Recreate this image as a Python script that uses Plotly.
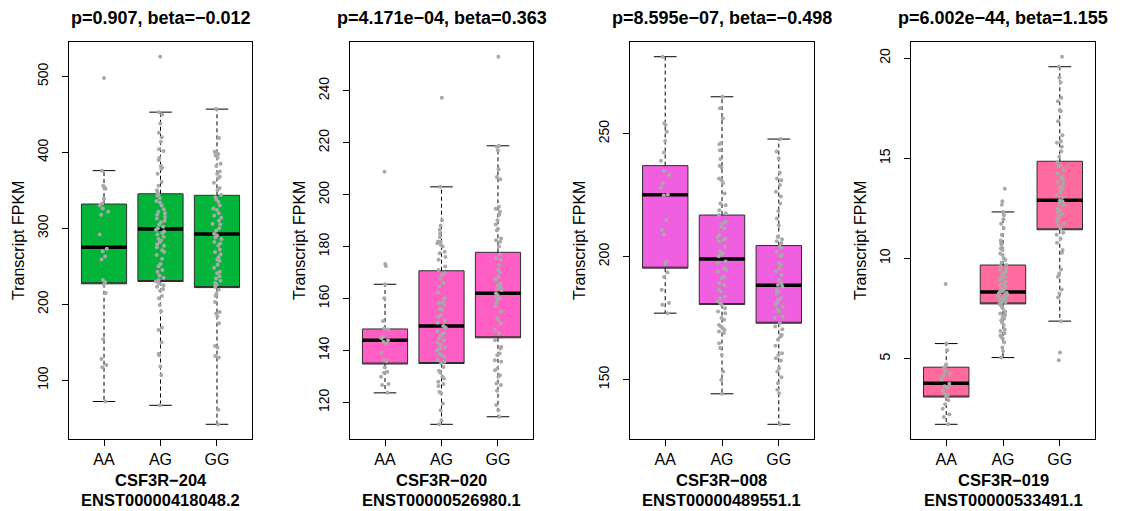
import plotly.graph_objects as go

# ---------------- data ----------------
groups = ["AA", "AG", "GG"]
panel_titles = ["p=0.907, beta=\u22120.012", "p=4.171e\u221204, beta=0.363",
                "p=8.595e\u221207, beta=\u22120.498", "p=6.002e\u221244, beta=1.155"]
gene_names = ["CSF3R\u2212204", "CSF3R\u2212020", "CSF3R\u2212008", "CSF3R\u2212019"]
transcript_ids = ["ENST00000418048.2", "ENST00000526980.1", "ENST00000489551.1", "ENST00000533491.1"]
y_axis_title = "Transcript FPKM"
y_tick_values = [[100, 200, 300, 400, 500], [120, 140, 160, 180, 200, 220, 240],
                 [150, 200, 250], [5, 10, 15, 20]]

# panel 1 (CSF3R-204)
p1_q1 = [227, 230, 222]
p1_median = [275, 299, 292.5]
p1_q3 = [332, 345.5, 343.5]
p1_lower = [72, 67, 42]
p1_upper = [376, 453, 457]
p1_AA = [498, 376, 356, 354, 352, 339, 333, 330, 326, 322, 318, 292, 273, 270, 263, 259, 232, 229, 226, 215,
         154, 128, 120, 117, 72]
p1_AG = [526, 453, 450, 438, 426, 420, 414, 404, 402, 393, 390, 382, 380, 378, 372, 361, 356, 350, 347, 345,
         343, 340, 336, 334, 330, 325, 322, 320, 318, 315, 313, 310, 308, 305, 302, 300, 298, 296, 294, 292,
         289, 286, 284, 282, 279, 277, 275, 271, 269, 265, 260, 253, 250, 245, 243, 238, 235, 232, 230, 228,
         227, 225, 223, 220, 218, 211, 208, 199, 191, 169, 166, 150, 135, 133, 118, 107, 67]
p1_GG = [457, 419, 401, 400, 398, 396, 393, 385, 382, 375, 372, 368, 366, 360, 353, 350, 344, 341, 338, 335,
         330, 326, 324, 320, 317, 314, 310, 306, 305, 300, 297, 293, 291, 288, 286, 282, 280, 277, 272, 269,
         266, 262, 259, 257, 252, 248, 243, 241, 237, 234, 231, 228, 226, 223, 219, 214, 211, 203, 190, 188,
         184, 175, 145, 143, 132, 130, 61, 42]

# panel 2 (CSF3R-020)
p2_q1 = [134.8, 135.0, 144.9]
p2_median = [144.0, 149.4, 162.0]
p2_q3 = [148.3, 170.7, 177.8]
p2_lower = [123.7, 111.6, 114.5]
p2_upper = [165.5, 203.0, 218.8]
p2_AA = [208.8, 173.3, 172.5, 165.5, 160.1, 151.4, 148.5, 148.1, 145.3, 144.7, 144.0, 143.4, 142.7, 139.1,
         136.3, 136.0, 133.5, 131.8, 131.4, 129.9, 127.1, 126.7, 123.7]
p2_AG = [237.3, 203.0, 190.1, 188.0, 186.5, 185.0, 183.7, 182.0, 181.9, 181.3, 180.6, 180.0, 178.0, 177.4,
         176.0, 174.9, 172.3, 171.0, 169.7, 169.1, 167.5, 166.0, 164.6, 162.3, 160.1, 158.8, 158.2, 157.5,
         156.2, 155.6, 153.7, 153.0, 151.5, 150.7, 149.4, 148.9, 147.5, 146.6, 146.0, 144.7, 144.0, 143.0,
         142.1, 141.2, 140.8, 140.0, 138.9, 138.2, 137.6, 136.3, 135.7, 135.0, 133.7, 132.2, 131.4, 129.9,
         129.2, 128.0, 127.1, 126.3, 124.1, 123.5, 119.6, 117.0, 113.2, 111.6]
p2_GG = [253.1, 218.8, 218.4, 217.1, 209.8, 206.8, 205.9, 195.3, 194.6, 193.4, 192.3, 190.1, 188.5, 186.9,
         186.3, 183.1, 182.4, 181.9, 180.0, 177.0, 175.5, 174.8, 173.0, 171.0, 170.0, 168.4, 167.4, 165.9,
         165.2, 164.5, 163.9, 163.3, 162.0, 161.4, 160.8, 160.1, 159.4, 158.4, 157.0, 154.9, 152.4, 151.7,
         150.5, 148.0, 146.6, 144.0, 141.4, 140.8, 138.9, 138.2, 136.3, 135.7, 133.1, 132.4, 130.5, 129.9,
         127.3, 126.7, 124.5, 119.0, 117.0, 114.5]

# panel 3 (CSF3R-008)
p3_q1 = [195.3, 180.5, 172.9]
p3_median = [225.2, 199.0, 188.4]
p3_q3 = [237.0, 216.9, 204.5]
p3_lower = [177.0, 144.2, 131.8]
p3_upper = [281.3, 265.0, 247.8]
p3_AA = [281.3, 254.2, 253.5, 250.8, 247.0, 242.3, 239.0, 234.8, 233.2, 229.8, 228.0, 225.3, 225.0, 214.9,
         210.8, 209.0, 198.0, 197.1, 193.5, 191.7, 186.5, 181.1, 180.4, 177.0]
p3_AG = [265.0, 260.3, 256.3, 246.1, 245.7, 243.3, 239.7, 237.0, 236.2, 231.8, 231.1, 229.8, 225.7, 221.6,
         220.9, 218.9, 217.6, 216.9, 214.2, 213.5, 212.1, 211.5, 208.8, 208.1, 207.4, 206.9, 206.2, 204.0,
         202.1, 201.4, 200.7, 200.1, 198.0, 197.4, 195.3, 194.6, 194.0, 191.9, 191.2, 189.2, 188.5, 186.5,
         185.8, 183.8, 183.1, 181.8, 181.1, 180.4, 179.0, 177.7, 177.0, 175.0, 174.3, 172.2, 171.6, 170.9,
         170.2, 169.5, 168.9, 164.8, 162.8, 160.0, 153.3, 149.9, 144.2]
p3_GG = [247.8, 242.7, 240.0, 234.1, 231.8, 231.1, 229.1, 226.4, 224.4, 221.6, 218.5, 215.5, 212.8, 208.1,
         207.1, 206.2, 205.5, 204.1, 203.5, 202.0, 200.7, 200.1, 197.4, 196.7, 195.3, 194.0, 192.6, 190.5,
         189.2, 188.5, 187.9, 186.5, 185.8, 185.1, 183.1, 182.4, 181.1, 180.4, 179.7, 178.4, 177.7, 175.6,
         175.0, 172.9, 171.6, 170.5, 168.2, 167.5, 166.2, 163.7, 160.7, 160.0, 158.7, 157.7, 154.6, 153.3,
         150.9, 148.5, 145.8, 144.4, 131.8]

# panel 4 (CSF3R-019)
p4_q1 = [3.08, 7.73, 11.43]
p4_median = [3.77, 8.33, 12.9]
p4_q3 = [4.57, 9.67, 14.85]
p4_lower = [1.72, 5.05, 6.87]
p4_upper = [5.75, 12.32, 19.57]
p4_AA = [8.72, 5.75, 5.42, 4.72, 4.62, 4.50, 4.38, 4.25, 4.17, 3.95, 3.75, 3.62, 3.55, 3.40, 3.25, 3.17,
         3.08, 2.92, 2.72, 2.50, 2.22, 2.08, 1.72]
p4_AG = [13.48, 12.85, 12.68, 12.32, 12.15, 11.95, 11.73, 11.52, 11.18, 10.90, 10.75, 10.67, 10.50, 10.42,
         10.25, 10.17, 10.00, 9.92, 9.80, 9.67, 9.58, 9.50, 9.42, 9.33, 9.25, 9.17, 9.08, 9.00, 8.92, 8.85,
         8.75, 8.67, 8.58, 8.50, 8.42, 8.38, 8.33, 8.29, 8.25, 8.21, 8.17, 8.12, 8.08, 8.04, 8.00, 7.96, 7.92,
         7.88, 7.83, 7.78, 7.72, 7.60, 7.50, 7.35, 7.25, 7.17, 7.08, 7.00, 6.92, 6.80, 6.67, 6.45, 6.38, 6.28,
         6.15, 6.08, 6.00, 5.80, 5.55, 5.38, 5.05]
p4_GG = [20.07, 19.57, 19.02, 18.78, 18.02, 17.85, 17.40, 17.35, 16.85, 16.15, 15.85, 15.78, 15.57, 15.35,
         15.07, 14.80, 14.65, 14.62, 14.40, 14.23, 14.10, 14.02, 13.95, 13.82, 13.73, 13.60, 13.52, 13.45,
         13.30, 13.15, 13.07, 12.90, 12.85, 12.75, 12.65, 12.50, 12.40, 12.32, 12.23, 12.10, 11.98, 11.85,
         11.73, 11.65, 11.48, 11.28, 11.18, 10.98, 10.78, 10.42, 10.28, 9.45, 9.25, 9.08, 8.45, 8.25, 8.05,
         6.87, 5.30, 4.92]

# ---------------- styling ----------------
box_colors = ["#03B43A", "#FF5EC4", "#EF5FDF", "#FF6B9F"]
point_color = "#A9A9A9"
FONT = "Liberation Sans, Arial, Helvetica, sans-serif"
W, H = 1123, 511
x_domains = [(69, 252), (350, 533), (630, 814), (911, 1095)]  # pixels
y_top, y_bot = 42, 439
BOX_W = 0.8
CAP_W = 0.4

panels = [
    dict(q1=p1_q1, med=p1_median, q3=p1_q3, lo=p1_lower, hi=p1_upper, pts=[p1_AA, p1_AG, p1_GG]),
    dict(q1=p2_q1, med=p2_median, q3=p2_q3, lo=p2_lower, hi=p2_upper, pts=[p2_AA, p2_AG, p2_GG]),
    dict(q1=p3_q1, med=p3_median, q3=p3_q3, lo=p3_lower, hi=p3_upper, pts=[p3_AA, p3_AG, p3_GG]),
    dict(q1=p4_q1, med=p4_median, q3=p4_q3, lo=p4_lower, hi=p4_upper, pts=[p4_AA, p4_AG, p4_GG]),
]

fig = go.Figure()
layout = dict(
    width=W, height=H, margin=dict(l=0, r=0, t=0, b=0),
    paper_bgcolor="white", plot_bgcolor="white", showlegend=False,
    font=dict(family=FONT, color="black"), boxmode="overlay",
)
annotations = []
pos = [1, 2, 3]

for i, p in enumerate(panels):
    n = i + 1
    xa = "x" if n == 1 else f"x{n}"
    ya = "y" if n == 1 else f"y{n}"
    ya_pts = f"y{n + 4}"
    all_vals = [v for g in p["pts"] for v in g] + p["lo"] + p["hi"]
    vmin, vmax = min(all_vals), max(all_vals)
    span = vmax - vmin
    yrange = [vmin - 0.04 * span, vmax + 0.04 * span]

    # box bodies
    fig.add_trace(go.Box(
        x=pos, q1=p["q1"], median=p["q1"], q3=p["q3"], lowerfence=p["q1"], upperfence=p["q3"],
        width=BOX_W, fillcolor=box_colors[i], line=dict(color="#2e2e2e", width=1),
        whiskerwidth=0, boxpoints=False, hoverinfo="skip", xaxis=xa, yaxis=ya))

    # whiskers (dashed)
    wx, wy = [], []
    for k in range(3):
        wx += [pos[k], pos[k], None, pos[k], pos[k], None]
        wy += [p["q3"][k], p["hi"][k], None, p["q1"][k], p["lo"][k], None]
    fig.add_trace(go.Scatter(x=wx, y=wy, mode="lines", line=dict(color="black", width=1, dash="4px,3px"),
                             hoverinfo="skip", xaxis=xa, yaxis=ya))
    # staples
    cx, cy = [], []
    for k in range(3):
        cx += [pos[k] - CAP_W / 2, pos[k] + CAP_W / 2, None, pos[k] - CAP_W / 2, pos[k] + CAP_W / 2, None]
        cy += [p["hi"][k], p["hi"][k], None, p["lo"][k], p["lo"][k], None]
    fig.add_trace(go.Scatter(x=cx, y=cy, mode="lines", line=dict(color="black", width=1),
                             hoverinfo="skip", xaxis=xa, yaxis=ya))
    # medians
    mx, my = [], []
    for k in range(3):
        mx += [pos[k] - BOX_W / 2, pos[k] + BOX_W / 2, None]
        my += [p["med"][k], p["med"][k], None]
    fig.add_trace(go.Scatter(x=mx, y=my, mode="lines", line=dict(color="black", width=3.5),
                             hoverinfo="skip", xaxis=xa, yaxis=ya))

    # jittered points on an overlaid axis (drawn on top)
    px_, py_ = [], []
    for k in range(3):
        px_ += [pos[k]] * len(p["pts"][k])
        py_ += p["pts"][k]
    fig.add_trace(go.Box(
        x=px_, y=py_, boxpoints="all", jitter=0.22, pointpos=0, width=BOX_W,
        fillcolor="rgba(0,0,0,0)", line=dict(color="rgba(0,0,0,0)", width=0),
        marker=dict(color=point_color, size=4, line=dict(width=0)),
        hoverinfo="skip", xaxis=xa, yaxis=ya_pts))

    x0, x1 = x_domains[i]
    dom = [x0 / W, x1 / W]
    ydom = [1 - y_bot / H, 1 - y_top / H]
    xkey = "xaxis" if n == 1 else f"xaxis{n}"
    ykey = "yaxis" if n == 1 else f"yaxis{n}"
    layout[xkey] = dict(
        domain=dom, anchor=ya, range=[0.38, 3.62], tickmode="array", tickvals=pos, ticktext=groups,
        ticks="outside", ticklen=6, tickcolor="black", showline=True, mirror=True, linecolor="black",
        linewidth=1, showgrid=False, zeroline=False, tickfont=dict(size=16, family=FONT, color="black"),
        fixedrange=True)
    layout[ykey] = dict(
        domain=ydom, anchor=xa, range=yrange, tickmode="array", tickvals=y_tick_values[i],
        ticktext=[str(v) for v in y_tick_values[i]], tickangle=-90, ticklabelstandoff=8,
        ticks="outside", ticklen=6, tickcolor="black", showline=True, mirror=True, linecolor="black",
        linewidth=1, showgrid=False, zeroline=False, tickfont=dict(size=14, family=FONT, color="black"),
        fixedrange=True)
    layout[f"yaxis{n + 4}"] = dict(overlaying=ya, anchor=xa, range=yrange, visible=False,
                                   showgrid=False, zeroline=False, fixedrange=True)

    cx_paper = (x0 + x1) / 2 / W
    annotations.append(dict(text=f"<b>{panel_titles[i]}</b>", x=cx_paper, y=1 - 18.5 / H, xref="paper",
                            yref="paper", xanchor="center", yanchor="middle", showarrow=False,
                            font=dict(size=18, family=FONT, color="black")))
    annotations.append(dict(text=f"<b>{gene_names[i]}</b>", x=cx_paper, y=1 - 480 / H, xref="paper",
                            yref="paper", xanchor="center", yanchor="middle", showarrow=False,
                            font=dict(size=16.5, family=FONT, color="black")))
    annotations.append(dict(text=f"<b>{transcript_ids[i]}</b>", x=cx_paper, y=1 - 500 / H, xref="paper",
                            yref="paper", xanchor="center", yanchor="middle", showarrow=False,
                            font=dict(size=16.5, family=FONT, color="black")))
    annotations.append(dict(text=y_axis_title, x=(x0 - 50.5) / W, y=1 - ((y_top + y_bot) / 2) / H,
                            xref="paper", yref="paper", xanchor="center", yanchor="middle", textangle=-90,
                            showarrow=False, font=dict(size=16, family=FONT, color="black")))

layout["annotations"] = annotations
fig.update_layout(**layout)
fig.write_html("out.html")
